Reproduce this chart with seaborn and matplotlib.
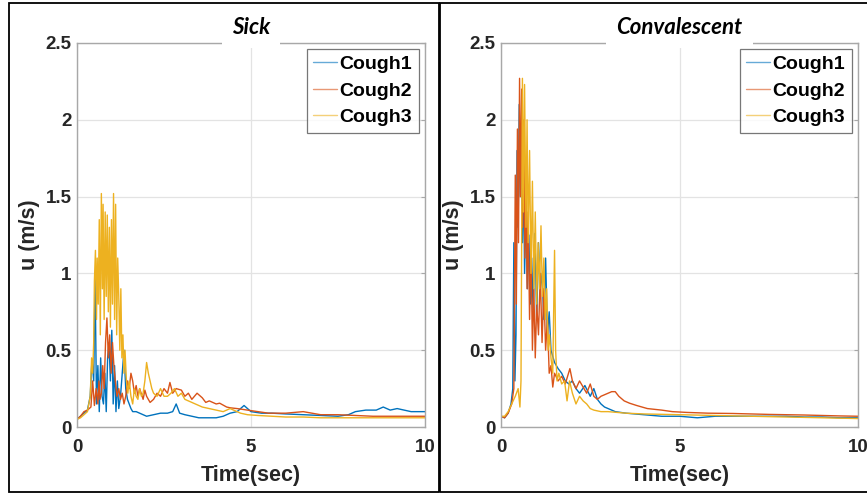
import matplotlib
matplotlib.use("Agg")
import matplotlib.pyplot as plt
import seaborn as sns
import pandas as pd
from matplotlib.patches import Rectangle

# ---- Sick: cough velocity traces ----
sick_t1 = [0, 0.1, 0.2, 0.3, 0.38, 0.43, 0.48, 0.52, 0.56, 0.6, 0.64, 0.68, 0.72, 0.76, 0.8, 0.84, 0.88, 0.92,
           0.96, 1.0, 1.04, 1.08, 1.12, 1.16, 1.2, 1.25, 1.3, 1.35, 1.4, 1.45, 1.5, 1.55, 1.6, 1.7, 1.8, 1.9, 2.0,
           2.2, 2.4, 2.6, 2.75, 2.85, 2.95, 3.1, 3.3, 3.5, 3.8, 4.0, 4.2, 4.4, 4.6, 4.8, 5.0, 5.3, 5.6, 6.0, 6.5,
           7.0, 7.5, 7.8, 8.0, 8.3, 8.6, 8.8, 9.0, 9.2, 9.4, 9.6, 9.8, 10.0]
sick_u1 = [0.05, 0.07, 0.09, 0.11, 0.2, 0.44, 0.3, 0.98, 0.15, 0.4, 0.1, 0.45, 0.2, 0.15, 0.35, 0.1, 0.45, 0.55,
           0.3, 0.63, 0.15, 0.4, 0.1, 0.3, 0.12, 0.2, 0.35, 0.5, 0.25, 0.18, 0.15, 0.12, 0.1, 0.1, 0.09, 0.08, 0.07,
           0.08, 0.09, 0.09, 0.1, 0.15, 0.09, 0.08, 0.07, 0.06, 0.06, 0.06, 0.07, 0.09, 0.1, 0.14, 0.1, 0.09, 0.09,
           0.085, 0.08, 0.075, 0.07, 0.08, 0.1, 0.11, 0.11, 0.13, 0.11, 0.12, 0.11, 0.1, 0.1, 0.1]

sick_t2 = [0, 0.1, 0.2, 0.3, 0.4, 0.45, 0.5, 0.55, 0.6, 0.63, 0.66, 0.7, 0.74, 0.78, 0.82, 0.86, 0.9, 0.94, 0.98,
           1.02, 1.06, 1.1, 1.15, 1.2, 1.25, 1.3, 1.35, 1.4, 1.45, 1.5, 1.55, 1.6, 1.65, 1.7, 1.75, 1.8, 1.9, 1.95,
           2.0, 2.1, 2.2, 2.3, 2.4, 2.5, 2.6, 2.67, 2.75, 2.85, 3.0, 3.1, 3.2, 3.3, 3.45, 3.6, 3.7, 3.8, 4.0, 4.1,
           4.3, 4.4, 4.6, 4.9, 5.2, 5.5, 6.0, 6.5, 7.0, 7.5, 8.0, 8.5, 9.0, 9.5, 10.0]
sick_u2 = [0.05, 0.07, 0.1, 0.11, 0.13, 0.3, 0.14, 0.25, 0.15, 0.3, 0.18, 0.22, 0.4, 0.25, 0.55, 0.71, 0.45, 0.6,
           0.35, 0.55, 0.4, 0.3, 0.2, 0.25, 0.18, 0.22, 0.15, 0.2, 0.3, 0.25, 0.35, 0.3, 0.22, 0.27, 0.2, 0.25, 0.18,
           0.24, 0.2, 0.16, 0.18, 0.22, 0.2, 0.25, 0.22, 0.29, 0.22, 0.25, 0.24, 0.2, 0.22, 0.18, 0.22, 0.19, 0.16,
           0.17, 0.15, 0.155, 0.13, 0.125, 0.12, 0.11, 0.1, 0.09, 0.09, 0.1, 0.08, 0.08, 0.075, 0.07, 0.07, 0.07,
           0.07]

sick_t3 = [0, 0.1, 0.2, 0.3, 0.38, 0.42, 0.45, 0.48, 0.5, 0.53, 0.56, 0.58, 0.61, 0.64, 0.67, 0.7, 0.73, 0.75,
           0.78, 0.81, 0.84, 0.87, 0.9, 0.93, 0.96, 0.99, 1.02, 1.05, 1.08, 1.11, 1.14, 1.17, 1.2, 1.23, 1.26, 1.29,
           1.32, 1.35, 1.38, 1.42, 1.46, 1.5, 1.55, 1.6, 1.65, 1.7, 1.75, 1.8, 1.85, 1.9, 1.95, 2.0, 2.05, 2.1,
           2.15, 2.2, 2.3, 2.4, 2.5, 2.6, 2.7, 2.8, 2.9, 3.0, 3.1, 3.2, 3.4, 3.6, 3.8, 4.0, 4.2, 4.4, 4.5, 4.7,
           4.9, 5.2, 5.6, 6.0, 6.5, 7.0, 7.5, 8.0, 8.5, 9.0, 9.5, 10.0]
sick_u3 = [0.05, 0.06, 0.08, 0.1, 0.2, 0.45, 0.35, 0.55, 0.95, 1.15, 0.7, 1.1, 0.8, 1.35, 0.6, 1.52, 0.9, 1.45,
           0.7, 1.4, 0.85, 1.38, 0.75, 1.3, 0.65, 1.35, 0.8, 1.52, 0.7, 1.45, 0.6, 1.1, 0.85, 0.5, 0.9, 0.45, 0.6,
           0.35, 0.5, 0.3, 0.22, 0.3, 0.2, 0.15, 0.25, 0.2, 0.18, 0.25, 0.2, 0.22, 0.3, 0.42, 0.35, 0.3, 0.25,
           0.22, 0.2, 0.25, 0.2, 0.2, 0.22, 0.25, 0.2, 0.22, 0.18, 0.17, 0.15, 0.13, 0.12, 0.11, 0.1, 0.12, 0.11,
           0.09, 0.08, 0.075, 0.07, 0.065, 0.065, 0.06, 0.06, 0.06, 0.06, 0.06, 0.06, 0.06]

# ---- Convalescent: cough velocity traces ----
conv_t1 = [0, 0.1, 0.2, 0.28, 0.33, 0.36, 0.39, 0.42, 0.45, 0.48, 0.51, 0.54, 0.57, 0.6, 0.63, 0.66, 0.7, 0.74,
           0.78, 0.82, 0.86, 0.9, 0.95, 1.0, 1.05, 1.1, 1.15, 1.2, 1.25, 1.3, 1.35, 1.4, 1.5, 1.6, 1.7, 1.8, 1.9,
           2.0, 2.1, 2.2, 2.35, 2.5, 2.6, 2.7, 2.8, 2.9, 3.0, 3.2, 3.5, 4.0, 4.5, 5.0, 5.5, 6.0, 6.5, 7.0, 7.5,
           8.0, 8.5, 9.0, 9.5, 10.0]
conv_u1 = [0.07, 0.06, 0.09, 0.15, 0.25, 1.2, 0.3, 0.6, 1.8, 1.3, 2.1, 1.5, 1.9, 1.2, 1.7, 1.0, 1.4, 0.9, 1.25,
           0.8, 1.1, 0.75, 1.26, 0.7, 1.2, 0.9, 1.0, 0.7, 1.1, 0.6, 0.75, 0.5, 0.42, 0.38, 0.35, 0.3, 0.28, 0.3,
           0.25, 0.22, 0.27, 0.2, 0.25, 0.18, 0.15, 0.13, 0.12, 0.1, 0.09, 0.08, 0.07, 0.07, 0.06, 0.07, 0.07, 0.07,
           0.07, 0.07, 0.065, 0.065, 0.06, 0.06]

conv_t2 = [0, 0.1, 0.2, 0.3, 0.36, 0.4, 0.43, 0.46, 0.49, 0.52, 0.55, 0.58, 0.61, 0.64, 0.67, 0.7, 0.73, 0.76,
           0.8, 0.84, 0.88, 0.92, 0.96, 1.0, 1.05, 1.1, 1.15, 1.2, 1.25, 1.3, 1.35, 1.4, 1.45, 1.5, 1.6, 1.7, 1.8,
           1.93, 2.0, 2.1, 2.2, 2.3, 2.4, 2.5, 2.6, 2.7, 2.8, 2.9, 3.0, 3.1, 3.2, 3.3, 3.45, 3.6, 3.8, 4.1, 4.5,
           4.8, 5.2, 5.8, 6.5, 7.0, 7.5, 8.0, 8.5, 9.0, 9.5, 10.0]
conv_u2 = [0.07, 0.06, 0.09, 0.15, 0.25, 1.64, 0.8, 1.94, 1.2, 2.27, 1.5, 2.2, 1.3, 2.0, 1.1, 1.7, 0.9, 1.4, 0.7,
           1.2, 0.5, 0.9, 0.45, 0.8, 0.6, 1.0, 0.55, 0.9, 0.5, 0.7, 0.35, 0.4, 0.26, 0.35, 0.3, 0.33, 0.28, 0.38,
           0.3, 0.25, 0.3, 0.26, 0.22, 0.28, 0.2, 0.18, 0.2, 0.21, 0.22, 0.23, 0.23, 0.2, 0.17, 0.155, 0.14, 0.12,
           0.11, 0.1, 0.095, 0.09, 0.088, 0.085, 0.082, 0.08, 0.078, 0.075, 0.072, 0.07]

conv_t3 = [0, 0.1, 0.2, 0.3, 0.4, 0.48, 0.53, 0.56, 0.6, 0.63, 0.66, 0.7, 0.73, 0.76, 0.8, 0.84, 0.88, 0.92, 0.96,
           1.0, 1.04, 1.08, 1.12, 1.16, 1.2, 1.24, 1.28, 1.32, 1.36, 1.4, 1.45, 1.5, 1.53, 1.57, 1.62, 1.7, 1.78,
           1.85, 1.92, 2.0, 2.1, 2.2, 2.3, 2.4, 2.5, 2.6, 2.8, 3.0, 3.5, 4.0, 5.0, 6.0, 7.0, 8.0, 9.0, 10.0]
conv_u3 = [0.07, 0.07, 0.1, 0.15, 0.2, 0.25, 0.13, 0.3, 2.27, 1.4, 2.23, 1.3, 2.0, 1.2, 1.8, 1.0, 1.6, 0.9, 1.4,
           0.8, 1.2, 0.9, 1.31, 0.85, 1.1, 0.7, 0.9, 0.5, 0.6, 0.45, 0.35, 1.15, 0.5, 0.3, 0.35, 0.28, 0.3, 0.17,
           0.3, 0.22, 0.15, 0.2, 0.17, 0.15, 0.12, 0.11, 0.1, 0.1, 0.09, 0.085, 0.08, 0.075, 0.07, 0.065, 0.06,
           0.055]

series_names = ["Cough1", "Cough2", "Cough3"]
panel_titles = ["Sick", "Convalescent"]
x_ticks = [0, 5, 10]
y_ticks = [0, 0.5, 1, 1.5, 2, 2.5]
y_tick_labels = ["0", "0.5", "1", "1.5", "2", "2.5"]
line_colors = ["#0072BD", "#D95319", "#EDB120"]


def build_frame(times, speeds):
    parts = []
    for name, t, u in zip(series_names, times, speeds):
        parts.append(pd.DataFrame({"time": t, "u": u, "cough": name}))
    return pd.concat(parts, ignore_index=True)


sick_df = build_frame([sick_t1, sick_t2, sick_t3], [sick_u1, sick_u2, sick_u3])
conv_df = build_frame([conv_t1, conv_t2, conv_t3], [conv_u1, conv_u2, conv_u3])

sns.set_style("white")
plt.rcParams["font.family"] = ["Liberation Sans", "DejaVu Sans"]

W, H = 867, 495
fig = plt.figure(figsize=(W / 100, H / 100), dpi=100)

# panel frames
fig.add_artist(Rectangle((9 / W, 3 / H), (439 - 9) / W, (492 - 3) / H, transform=fig.transFigure,
                         fill=False, edgecolor="black", linewidth=1.3, zorder=0))
fig.add_artist(Rectangle((440 / W, 3 / H), (880 - 440) / W, (492 - 3) / H, transform=fig.transFigure,
                         fill=False, edgecolor="black", linewidth=1.3, zorder=0))

axes_px = [(77, 425), (501, 858)]
top_px, bottom_px = 43, 427
palette = dict(zip(series_names, line_colors))

for (x0, x1), df, title in zip(axes_px, [sick_df, conv_df], panel_titles):
    ax = fig.add_axes([x0 / W, (H - bottom_px) / H, (x1 - x0) / W, (bottom_px - top_px) / H])
    sns.lineplot(data=df, x="time", y="u", hue="cough", palette=palette, estimator=None,
                 sort=False, linewidth=1.0, ax=ax)
    ax.set_xlim(0, 10)
    ax.set_ylim(0, 2.5)
    ax.set_xticks(x_ticks)
    ax.set_xticklabels([str(v) for v in x_ticks])
    ax.set_yticks(y_ticks)
    ax.set_yticklabels(y_tick_labels)
    ax.grid(True, color="#e3e3e3", linewidth=0.9)
    ax.set_axisbelow(True)
    for s in ax.spines.values():
        s.set_color("#a8a8a8")
        s.set_linewidth(1.0)
    ax.tick_params(axis="both", which="both", direction="in", length=3, color="#a8a8a8",
                   labelsize=13.5, labelcolor="#262626", top=True, right=True)
    ax.tick_params(axis="x", pad=9)
    ax.tick_params(axis="y", pad=4)
    for lab in ax.get_xticklabels() + ax.get_yticklabels():
        lab.set_fontweight("bold")
    ax.set_xlabel("Time(sec)", fontsize=15.5, fontweight="bold", color="#262626")
    ax.set_ylabel("u (m/s)", fontsize=15.5, fontweight="bold", color="#262626")
    ax.xaxis.set_label_coords(0.5, -0.1)
    ax.yaxis.set_label_coords(-0.105, 0.5)

    handles, labels = ax.get_legend_handles_labels()
    leg = ax.legend(handles, labels, loc="upper right", frameon=True, fancybox=False,
                    borderaxespad=0.3, handlelength=1.2, handletextpad=0.15, borderpad=0.35,
                    labelspacing=0.45, prop={"weight": "bold", "size": 14})
    leg.get_frame().set_edgecolor("#555555")
    leg.get_frame().set_linewidth(0.9)
    for text in leg.get_texts():
        text.set_color("black")
    for line in leg.get_lines():
        line.set_linewidth(1.0)
        line.set_alpha(0.6)

    fig.text(((x0 + x1) / 2) / W, (H - 27) / H, title, ha="center", va="center",
             fontsize=16, fontweight="bold", fontstyle="italic", family=["Lato", "DejaVu Sans"],
             color="black", zorder=5,
             bbox=dict(boxstyle="square,pad=0.45", facecolor="white", edgecolor="none"))

fig.savefig("out.png", dpi=100)
